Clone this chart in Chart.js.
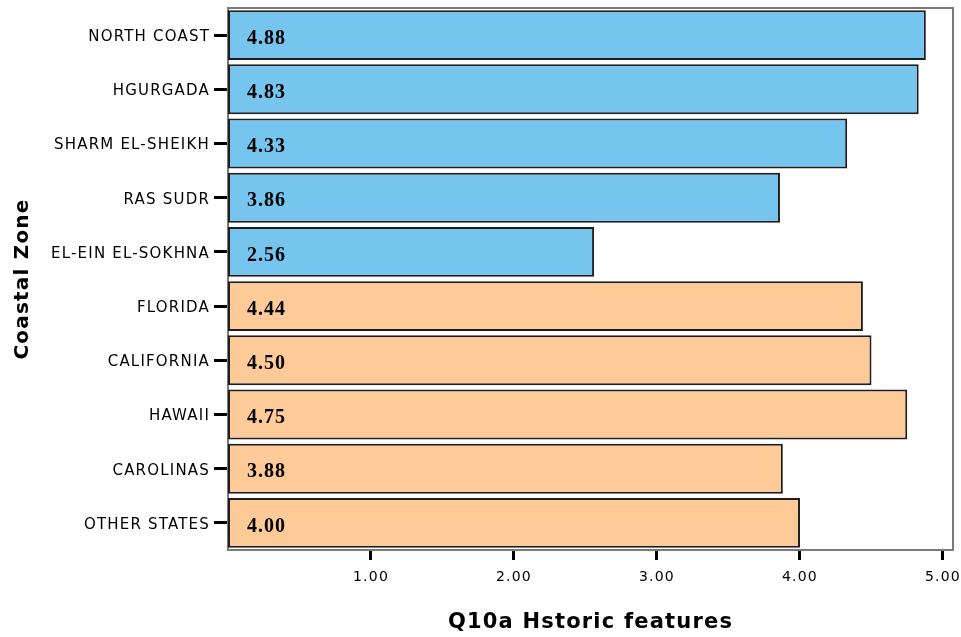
<!DOCTYPE html>
<html>
<head>
<meta charset="utf-8">
<title>Q10a Hstoric features</title>
<script src="https://cdn.jsdelivr.net/npm/chart.js@4/dist/chart.umd.min.js"></script>
<style>
    html, body { margin: 0; padding: 0; background: #ffffff; }
    canvas { display: block; }
</style>
</head>
<body>
<canvas id="chart" width="961" height="637"></canvas>
<script>
const zones = [
    "NORTH COAST",
    "HGURGADA",
    "SHARM EL-SHEIKH",
    "RAS SUDR",
    "EL-EIN EL-SOKHNA",
    "FLORIDA",
    "CALIFORNIA",
    "HAWAII",
    "CAROLINAS",
    "OTHER STATES",
];
const zoneRegion = ["Egypt", "Egypt", "Egypt", "Egypt", "Egypt", "USA", "USA", "USA", "USA", "USA"];
const meanScores = [4.88, 4.83, 4.33, 3.86, 2.56, 4.44, 4.50, 4.75, 3.88, 4.00];
const xTickValues = [1, 2, 3, 4, 5];

const REGION_COLORS = {
    Egypt: "#75c5ee",
    USA: "#fecb98",
};

Chart.defaults.font.family = "'DejaVu Sans', sans-serif";
Chart.defaults.color = "#000000";

// pixel-font look: a bit of spacing between letters
const letterSpacing = {
    id: "letterSpacing",
    beforeDraw: (chart) => { chart.ctx.letterSpacing = "1.2px"; },
    afterDraw: (chart) => { chart.ctx.letterSpacing = "0px"; },
};

const plotFrame = {
    id: "plotFrame",
    beforeDatasetsDraw: (chart) => {
        const { ctx, chartArea: a } = chart;
        ctx.save();
        ctx.strokeStyle = "#7a7a7a";
        ctx.lineWidth = 2;
        ctx.strokeRect(a.left, a.top, a.right - a.left, a.bottom - a.top);
        ctx.restore();
    },
};

const valueLabels = {
    id: "valueLabels",
    afterDatasetsDraw: (chart) => {
        const { ctx, chartArea } = chart;
        const meta = chart.getDatasetMeta(0);
        ctx.save();
        ctx.letterSpacing = "1px";
        ctx.font = "bold 20px 'Liberation Serif', serif";
        ctx.fillStyle = "#000000";
        ctx.textAlign = "left";
        ctx.textBaseline = "middle";
        meta.data.forEach((bar, i) => {
            ctx.fillText(meanScores[i].toFixed(2), chartArea.left + 19, bar.y + 3.5);
        });
        ctx.restore();
    },
};

new Chart(document.getElementById("chart"), {
    type: "bar",
    data: {
        labels: zones,
        datasets: [
            {
                label: "Q10a Hstoric features",
                data: meanScores,
                backgroundColor: zoneRegion.map((r) => REGION_COLORS[r] || "#cccccc"),
                borderColor: "#1e1e1e",
                borderWidth: 2,
                borderSkipped: false,
                categoryPercentage: 1,
                barPercentage: 0.92,
            },
        ],
    },
    options: {
        indexAxis: "y",
        responsive: false,
        animation: false,
        layout: { padding: { top: 8, right: 8, left: 0, bottom: 0 } },
        plugins: {
            legend: { display: false },
            tooltip: { enabled: false },
        },
        scales: {
            x: {
                type: "linear",
                min: 0,
                max: 5.07,
                afterBuildTicks: (scale) => {
                    scale.ticks = xTickValues.map((v) => ({ value: v }));
                },
                afterFit: (scale) => {
                    scale.height = 87;
                    scale.paddingLeft = 0;
                    scale.paddingRight = 0;
                },
                border: { display: false },
                grid: {
                    drawOnChartArea: false,
                    tickColor: "#000000",
                    tickWidth: 3,
                    tickLength: 10,
                },
                ticks: {
                    font: { size: 14 },
                    padding: 9,
                    maxRotation: 0,
                    callback: (v) => Number(v).toFixed(2),
                },
                title: {
                    display: true,
                    text: "Q10a Hstoric features",
                    font: { size: 21, weight: "bold" },
                    padding: { top: 0, bottom: 2 },
                },
            },
            y: {
                afterFit: (scale) => {
                    scale.width = 228;
                    scale.paddingTop = 0;
                    scale.paddingBottom = 0;
                },
                border: { display: false },
                grid: {
                    offset: false,
                    drawOnChartArea: false,
                    tickColor: "#000000",
                    tickWidth: 3,
                    tickLength: 14,
                },
                ticks: {
                    font: { size: 15 },
                    padding: 4,
                    labelOffset: 2,
                },
                title: {
                    display: true,
                    text: "Coastal Zone",
                    font: { size: 20, weight: "bold" },
                    padding: { top: 11, bottom: 0 },
                },
            },
        },
    },
    plugins: [letterSpacing, plotFrame, valueLabels],
});
</script>
</body>
</html>
